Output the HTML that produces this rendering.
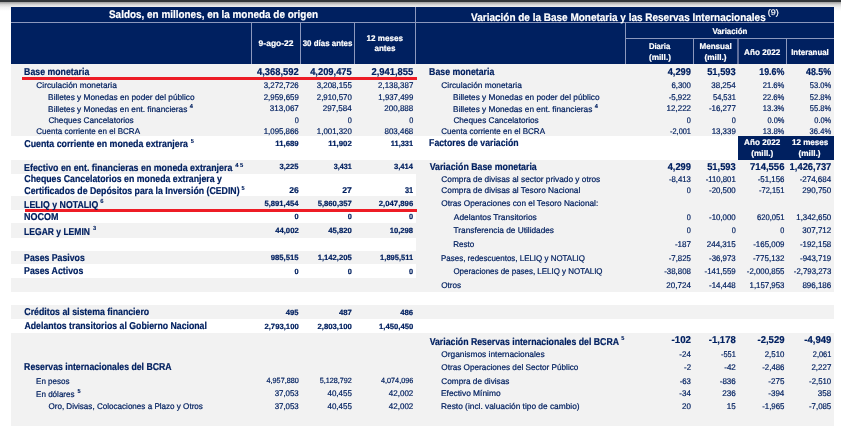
<!DOCTYPE html>
<html lang="es"><head><meta charset="utf-8"><title>Informe Monetario Diario</title>
<style>
html,body{margin:0;padding:0;background:#fff}
#p{position:relative;width:841px;height:427px;overflow:hidden;background:#fff;font-family:"Liberation Sans",sans-serif;color:#002060;text-rendering:geometricPrecision;-webkit-font-smoothing:antialiased}
#p div{position:absolute}
.t{position:absolute;white-space:pre;line-height:14px;height:14px;transform-origin:0 0}
.b{font-weight:700}
.w{color:#fff}
</style></head><body>
<div id="p">
<div style="left:0px;top:0px;width:841px;height:2px;background:#323639;"></div>
<div style="left:0;top:2px;width:841px;height:9px;background:linear-gradient(#9c9c9c,#d9d9d9 30%,#f3f3f3 60%,#fff)"></div>
<div style="left:11px;top:64px;width:404.5px;height:72px;background:#f2f2f2;"></div>
<div style="left:11px;top:160px;width:404.5px;height:14px;background:#f2f2f2;"></div>
<div style="left:11px;top:196px;width:404.5px;height:14px;background:#f2f2f2;"></div>
<div style="left:11px;top:223px;width:404.5px;height:15px;background:#f2f2f2;"></div>
<div style="left:11px;top:251px;width:404.5px;height:13px;background:#f2f2f2;"></div>
<div style="left:11px;top:278px;width:404.5px;height:14px;background:#f2f2f2;"></div>
<div style="left:11px;top:305px;width:404.5px;height:14px;background:#f2f2f2;"></div>
<div style="left:11px;top:333px;width:404.5px;height:92.6px;background:#f2f2f2;"></div>
<div style="left:415.5px;top:64px;width:418.5px;height:72px;background:#f2f2f2;"></div>
<div style="left:415.5px;top:160px;width:418.5px;height:132px;background:#f2f2f2;"></div>
<div style="left:415.5px;top:305px;width:418.5px;height:14px;background:#f2f2f2;"></div>
<div style="left:415.5px;top:333px;width:418.5px;height:92.6px;background:#f2f2f2;"></div>
<div style="left:11px;top:7px;width:823px;height:56.7px;background:#002060;"></div>
<div style="left:11px;top:22px;width:823px;height:1px;background:#8c98bd;"></div>
<div style="left:415px;top:7px;width:1px;height:56.7px;background:#8c98bd;"></div>
<div style="left:251px;top:23px;width:1px;height:40.7px;background:#8c98bd;"></div>
<div style="left:300px;top:23px;width:1px;height:40.7px;background:#8c98bd;"></div>
<div style="left:354px;top:23px;width:1px;height:40.7px;background:#8c98bd;"></div>
<div style="left:625px;top:23px;width:1px;height:40.7px;background:#8c98bd;"></div>
<div style="left:626px;top:38px;width:208px;height:1px;background:#8c98bd;"></div>
<div style="left:693px;top:39px;width:1px;height:24.7px;background:#8c98bd;"></div>
<div style="left:786px;top:39px;width:1px;height:24.7px;background:#8c98bd;"></div>
<div style="left:737px;top:39px;width:2px;height:24.7px;background:#5f6e9c;"></div>
<div style="left:738px;top:136px;width:96px;height:23.8px;background:#002060;"></div>
<div style="left:22px;top:77px;width:395px;height:3px;background:#ee1c25;"></div>
<div style="left:25px;top:209px;width:392px;height:3px;background:#ee1c25;"></div>
<span class="t b" style="left:24px;top:66px;font-size:9.96px;transform:translateX(0.10px) scaleX(0.8792);-webkit-text-stroke:0.2px currentColor;">Base monetaria</span>
<span class="t b" style="left:257px;top:66px;font-size:9.96px;transform:translateX(0.00px) scaleX(0.9436);-webkit-text-stroke:0.2px currentColor;">4,368,592</span>
<span class="t b" style="left:310px;top:66px;font-size:9.96px;transform:translateX(0.13px) scaleX(0.9402);-webkit-text-stroke:0.2px currentColor;">4,209,475</span>
<span class="t b" style="left:371px;top:66px;font-size:9.96px;transform:translateX(0.42px) scaleX(0.9428);-webkit-text-stroke:0.2px currentColor;">2,941,855</span>
<span class="t" style="left:36px;top:79px;font-size:8.28px;transform:translateX(0.28px) scaleX(1.0068);-webkit-text-stroke:0.2px currentColor;">Circulación monetaria</span>
<span class="t" style="left:263px;top:79px;font-size:8.28px;transform:translateX(0.69px) scaleX(0.9532);-webkit-text-stroke:0.2px currentColor;">3,272,726</span>
<span class="t" style="left:316px;top:79px;font-size:8.28px;transform:translateX(0.72px) scaleX(0.9547);-webkit-text-stroke:0.2px currentColor;">3,208,155</span>
<span class="t" style="left:378px;top:79px;font-size:8.28px;transform:translateX(0.05px) scaleX(0.9584);-webkit-text-stroke:0.2px currentColor;">2,138,387</span>
<span class="t" style="left:48px;top:91px;font-size:8.28px;transform:translateX(0.12px) scaleX(1.0020);-webkit-text-stroke:0.2px currentColor;">Billetes y Monedas en poder del público</span>
<span class="t" style="left:263px;top:91px;font-size:8.28px;transform:translateX(0.74px) scaleX(0.9527);-webkit-text-stroke:0.2px currentColor;">2,959,659</span>
<span class="t" style="left:316px;top:91px;font-size:8.28px;transform:translateX(0.76px) scaleX(0.9530);-webkit-text-stroke:0.2px currentColor;">2,910,570</span>
<span class="t" style="left:378px;top:91px;font-size:8.28px;transform:translateX(0.34px) scaleX(0.9498);-webkit-text-stroke:0.2px currentColor;">1,937,499</span>
<span class="t" style="left:48px;top:103px;font-size:8.28px;transform:translateX(0.12px) scaleX(1.0001);-webkit-text-stroke:0.2px currentColor;">Billetes y Monedas en ent. financieras</span>
<sup class="t b" style="left:189px;top:100px;font-size:5.90px;transform:translateX(0.66px) scaleX(0.9594);-webkit-text-stroke:0.1px currentColor;">4</sup>
<span class="t" style="left:269px;top:102px;font-size:8.28px;transform:translateX(0.85px) scaleX(0.9686);-webkit-text-stroke:0.2px currentColor;">313,067</span>
<span class="t" style="left:322px;top:102px;font-size:8.28px;transform:translateX(0.68px) scaleX(0.9722);-webkit-text-stroke:0.2px currentColor;">297,584</span>
<span class="t" style="left:384px;top:102px;font-size:8.28px;transform:translateX(0.34px) scaleX(0.9671);-webkit-text-stroke:0.2px currentColor;">200,888</span>
<span class="t" style="left:48px;top:114px;font-size:8.28px;transform:translateX(0.38px) scaleX(0.9930);-webkit-text-stroke:0.2px currentColor;">Cheques Cancelatorios</span>
<span class="t" style="left:294px;top:114px;font-size:8.28px;transform:translateX(0.63px) scaleX(0.8819);-webkit-text-stroke:0.2px currentColor;">0</span>
<span class="t" style="left:347px;top:114px;font-size:8.28px;transform:translateX(0.73px) scaleX(0.8819);-webkit-text-stroke:0.2px currentColor;">0</span>
<span class="t" style="left:409px;top:114px;font-size:8.28px;transform:translateX(0.13px) scaleX(0.8819);-webkit-text-stroke:0.2px currentColor;">0</span>
<span class="t" style="left:36px;top:125px;font-size:8.28px;transform:translateX(0.29px) scaleX(0.9734);-webkit-text-stroke:0.2px currentColor;">Cuenta corriente en el BCRA</span>
<span class="t" style="left:263px;top:125px;font-size:8.28px;transform:translateX(0.69px) scaleX(0.9531);-webkit-text-stroke:0.2px currentColor;">1,095,866</span>
<span class="t" style="left:316px;top:125px;font-size:8.28px;transform:translateX(0.87px) scaleX(0.9501);-webkit-text-stroke:0.2px currentColor;">1,001,320</span>
<span class="t" style="left:384px;top:125px;font-size:8.28px;transform:translateX(0.48px) scaleX(0.9626);-webkit-text-stroke:0.2px currentColor;">803,468</span>
<span class="t b" style="left:24px;top:138px;font-size:9.96px;transform:translateX(0.33px) scaleX(0.8857);-webkit-text-stroke:0.2px currentColor;">Cuenta corriente en moneda extranjera</span>
<sup class="t b" style="left:190px;top:135px;font-size:5.90px;transform:translateX(0.87px) scaleX(0.9532);-webkit-text-stroke:0.1px currentColor;">5</sup>
<span class="t b" style="left:275px;top:137px;font-size:7.56px;transform:translateX(0.28px) scaleX(1.0325);-webkit-text-stroke:0.2px currentColor;">11,689</span>
<span class="t b" style="left:328px;top:137px;font-size:7.56px;transform:translateX(0.27px) scaleX(1.0383);-webkit-text-stroke:0.2px currentColor;">11,902</span>
<span class="t b" style="left:390px;top:137px;font-size:7.56px;transform:translateX(0.80px) scaleX(0.9840);-webkit-text-stroke:0.2px currentColor;">11,331</span>
<span class="t b" style="left:24px;top:162px;font-size:9.96px;transform:translateX(0.10px) scaleX(0.8879);-webkit-text-stroke:0.2px currentColor;">Efectivo en ent. financieras en moneda extranjera</span>
<sup class="t b" style="left:235px;top:159px;font-size:5.90px;transform:translateX(0.16px) scaleX(0.9910);-webkit-text-stroke:0.1px currentColor;">4 5</sup>
<span class="t b" style="left:279px;top:160px;font-size:7.56px;transform:translateX(0.51px) scaleX(1.0109);-webkit-text-stroke:0.2px currentColor;">3,225</span>
<span class="t b" style="left:333px;top:160px;font-size:7.56px;transform:translateX(0.70px) scaleX(0.9530);-webkit-text-stroke:0.2px currentColor;">3,431</span>
<span class="t b" style="left:393px;top:160px;font-size:7.56px;transform:translateX(0.90px) scaleX(1.0078);-webkit-text-stroke:0.2px currentColor;">3,414</span>
<span class="t b" style="left:24px;top:173px;font-size:9.96px;transform:translateX(0.33px) scaleX(0.8800);-webkit-text-stroke:0.2px currentColor;">Cheques Cancelatorios en moneda extranjera y</span>
<span class="t b" style="left:24px;top:185px;font-size:9.96px;transform:translateX(0.33px) scaleX(0.8784);-webkit-text-stroke:0.2px currentColor;">Certificados de Depósitos para la Inversión (CEDIN)</span>
<sup class="t b" style="left:241px;top:182px;font-size:5.90px;transform:translateX(0.57px) scaleX(0.9532);-webkit-text-stroke:0.1px currentColor;">5</sup>
<span class="t b" style="left:289px;top:183px;font-size:8.43px;transform:translateX(0.13px) scaleX(1.0221);-webkit-text-stroke:0.2px currentColor;">26</span>
<span class="t b" style="left:342px;top:183px;font-size:8.43px;transform:translateX(0.29px) scaleX(1.0231);-webkit-text-stroke:0.2px currentColor;">27</span>
<span class="t b" style="left:404px;top:183px;font-size:8.43px;transform:translateX(0.97px) scaleX(0.8689);-webkit-text-stroke:0.2px currentColor;">31</span>
<span class="t b" style="left:24px;top:199px;font-size:9.96px;transform:translateX(0.10px) scaleX(0.8786);-webkit-text-stroke:0.2px currentColor;">LELIQ y NOTALIQ</span>
<sup class="t b" style="left:100px;top:195px;font-size:5.90px;transform:translateX(0.13px) scaleX(0.9991);-webkit-text-stroke:0.1px currentColor;">6</sup>
<span class="t b" style="left:264px;top:197px;font-size:7.56px;transform:translateX(0.44px) scaleX(1.0126);-webkit-text-stroke:0.2px currentColor;">5,891,454</span>
<span class="t b" style="left:317px;top:197px;font-size:7.56px;transform:translateX(0.65px) scaleX(1.0181);-webkit-text-stroke:0.2px currentColor;">5,860,357</span>
<span class="t b" style="left:378px;top:197px;font-size:7.56px;transform:translateX(0.83px) scaleX(1.0228);-webkit-text-stroke:0.2px currentColor;">2,047,896</span>
<span class="t b" style="left:24px;top:211px;font-size:9.96px;transform:translateX(0.09px) scaleX(0.9048);-webkit-text-stroke:0.2px currentColor;">NOCOM</span>
<span class="t b" style="left:294px;top:210px;font-size:7.56px;transform:translateX(0.62px) scaleX(0.9718);-webkit-text-stroke:0.2px currentColor;">0</span>
<span class="t b" style="left:347px;top:210px;font-size:7.56px;transform:translateX(0.72px) scaleX(0.9718);-webkit-text-stroke:0.2px currentColor;">0</span>
<span class="t b" style="left:409px;top:210px;font-size:7.56px;transform:translateX(0.12px) scaleX(0.9718);-webkit-text-stroke:0.2px currentColor;">0</span>
<span class="t b" style="left:24px;top:226px;font-size:9.96px;transform:translateX(0.12px) scaleX(0.8557);-webkit-text-stroke:0.2px currentColor;">LEGAR y LEMIN</span>
<sup class="t b" style="left:92px;top:222px;font-size:5.90px;transform:translateX(0.92px) scaleX(0.9802);-webkit-text-stroke:0.1px currentColor;">3</sup>
<span class="t b" style="left:275px;top:224px;font-size:7.56px;transform:translateX(0.13px) scaleX(1.0210);-webkit-text-stroke:0.2px currentColor;">44,002</span>
<span class="t b" style="left:328px;top:224px;font-size:7.56px;transform:translateX(0.30px) scaleX(1.0184);-webkit-text-stroke:0.2px currentColor;">45,820</span>
<span class="t b" style="left:389px;top:224px;font-size:7.56px;transform:translateX(0.75px) scaleX(1.0126);-webkit-text-stroke:0.2px currentColor;">10,298</span>
<span class="t b" style="left:24px;top:252px;font-size:9.96px;transform:translateX(0.10px) scaleX(0.8769);-webkit-text-stroke:0.2px currentColor;">Pases Pasivos</span>
<span class="t b" style="left:270px;top:251px;font-size:7.56px;transform:translateX(0.73px) scaleX(1.0221);-webkit-text-stroke:0.2px currentColor;">985,515</span>
<span class="t b" style="left:317px;top:251px;font-size:7.56px;transform:translateX(0.63px) scaleX(1.0149);-webkit-text-stroke:0.2px currentColor;">1,142,205</span>
<span class="t b" style="left:380px;top:251px;font-size:7.56px;transform:translateX(0.12px) scaleX(0.9944);-webkit-text-stroke:0.2px currentColor;">1,895,511</span>
<span class="t b" style="left:24px;top:265px;font-size:9.96px;transform:translateX(0.10px) scaleX(0.8816);-webkit-text-stroke:0.2px currentColor;">Pases Activos</span>
<span class="t b" style="left:294px;top:265px;font-size:7.56px;transform:translateX(0.62px) scaleX(0.9718);-webkit-text-stroke:0.2px currentColor;">0</span>
<span class="t b" style="left:347px;top:265px;font-size:7.56px;transform:translateX(0.72px) scaleX(0.9718);-webkit-text-stroke:0.2px currentColor;">0</span>
<span class="t b" style="left:409px;top:265px;font-size:7.56px;transform:translateX(0.12px) scaleX(0.9718);-webkit-text-stroke:0.2px currentColor;">0</span>
<span class="t b" style="left:24px;top:306px;font-size:9.96px;transform:translateX(0.33px) scaleX(0.8820);-webkit-text-stroke:0.2px currentColor;">Créditos al sistema financiero</span>
<span class="t b" style="left:285px;top:306px;font-size:7.56px;transform:translateX(0.83px) scaleX(1.0153);-webkit-text-stroke:0.2px currentColor;">495</span>
<span class="t b" style="left:338px;top:306px;font-size:7.56px;transform:translateX(0.93px) scaleX(1.0253);-webkit-text-stroke:0.2px currentColor;">487</span>
<span class="t b" style="left:400px;top:306px;font-size:7.56px;transform:translateX(0.27px) scaleX(1.0246);-webkit-text-stroke:0.2px currentColor;">486</span>
<span class="t b" style="left:24px;top:320px;font-size:9.96px;transform:translateX(0.47px) scaleX(0.8772);-webkit-text-stroke:0.2px currentColor;">Adelantos transitorios al Gobierno Nacional</span>
<span class="t b" style="left:264px;top:320px;font-size:7.56px;transform:translateX(0.43px) scaleX(1.0211);-webkit-text-stroke:0.2px currentColor;">2,793,100</span>
<span class="t b" style="left:317px;top:320px;font-size:7.56px;transform:translateX(0.53px) scaleX(1.0211);-webkit-text-stroke:0.2px currentColor;">2,803,100</span>
<span class="t b" style="left:379px;top:320px;font-size:7.56px;transform:translateX(0.07px) scaleX(1.0167);-webkit-text-stroke:0.2px currentColor;">1,450,450</span>
<span class="t b" style="left:24px;top:361px;font-size:9.96px;transform:translateX(0.11px) scaleX(0.8740);-webkit-text-stroke:0.2px currentColor;">Reservas internacionales del BCRA</span>
<span class="t" style="left:36px;top:375px;font-size:8.28px;transform:translateX(0.04px) scaleX(0.9720);-webkit-text-stroke:0.2px currentColor;">En pesos</span>
<span class="t" style="left:266px;top:374px;font-size:7.56px;transform:translateX(0.58px) scaleX(0.9562);-webkit-text-stroke:0.2px currentColor;">4,957,880</span>
<span class="t" style="left:319px;top:374px;font-size:7.56px;transform:translateX(0.78px) scaleX(0.9556);-webkit-text-stroke:0.2px currentColor;">5,128,792</span>
<span class="t" style="left:381px;top:374px;font-size:7.56px;transform:translateX(0.01px) scaleX(0.9592);-webkit-text-stroke:0.2px currentColor;">4,074,096</span>
<span class="t" style="left:36px;top:388px;font-size:8.28px;transform:translateX(0.04px) scaleX(0.9744);-webkit-text-stroke:0.2px currentColor;">En dólares</span>
<sup class="t b" style="left:77px;top:385px;font-size:5.90px;transform:translateX(0.57px) scaleX(0.9532);-webkit-text-stroke:0.1px currentColor;">5</sup>
<span class="t" style="left:274px;top:387px;font-size:8.28px;transform:translateX(0.63px) scaleX(0.9543);-webkit-text-stroke:0.2px currentColor;">37,053</span>
<span class="t" style="left:327px;top:387px;font-size:8.28px;transform:translateX(0.47px) scaleX(0.9639);-webkit-text-stroke:0.2px currentColor;">40,455</span>
<span class="t" style="left:388px;top:387px;font-size:8.28px;transform:translateX(0.85px) scaleX(0.9674);-webkit-text-stroke:0.2px currentColor;">42,002</span>
<span class="t" style="left:48px;top:400px;font-size:8.28px;transform:translateX(0.41px) scaleX(0.9775);-webkit-text-stroke:0.2px currentColor;">Oro, Divisas, Colocaciones a Plazo y Otros</span>
<span class="t" style="left:274px;top:400px;font-size:8.28px;transform:translateX(0.63px) scaleX(0.9543);-webkit-text-stroke:0.2px currentColor;">37,053</span>
<span class="t" style="left:327px;top:400px;font-size:8.28px;transform:translateX(0.47px) scaleX(0.9639);-webkit-text-stroke:0.2px currentColor;">40,455</span>
<span class="t" style="left:388px;top:400px;font-size:8.28px;transform:translateX(0.85px) scaleX(0.9674);-webkit-text-stroke:0.2px currentColor;">42,002</span>
<span class="t b" style="left:429px;top:66px;font-size:9.96px;transform:translateX(0.10px) scaleX(0.8792);-webkit-text-stroke:0.2px currentColor;">Base monetaria</span>
<span class="t b" style="left:667px;top:66px;font-size:9.96px;transform:translateX(0.69px) scaleX(0.9335);-webkit-text-stroke:0.2px currentColor;">4,299</span>
<span class="t b" style="left:707px;top:66px;font-size:9.96px;transform:translateX(0.18px) scaleX(0.9379);-webkit-text-stroke:0.2px currentColor;">51,593</span>
<span class="t b" style="left:759px;top:66px;font-size:9.96px;transform:translateX(0.23px) scaleX(0.8897);-webkit-text-stroke:0.2px currentColor;">19.6%</span>
<span class="t b" style="left:805px;top:66px;font-size:9.96px;transform:translateX(0.94px) scaleX(0.8928);-webkit-text-stroke:0.2px currentColor;">48.5%</span>
<span class="t" style="left:441px;top:79px;font-size:8.28px;transform:translateX(0.28px) scaleX(1.0068);-webkit-text-stroke:0.2px currentColor;">Circulación monetaria</span>
<span class="t" style="left:671px;top:79px;font-size:8.28px;transform:translateX(0.41px) scaleX(0.9427);-webkit-text-stroke:0.2px currentColor;">6,300</span>
<span class="t" style="left:711px;top:79px;font-size:8.28px;transform:translateX(0.28px) scaleX(0.9636);-webkit-text-stroke:0.2px currentColor;">38,254</span>
<span class="t" style="left:762px;top:79px;font-size:8.28px;transform:translateX(0.72px) scaleX(0.9243);-webkit-text-stroke:0.2px currentColor;">21.6%</span>
<span class="t" style="left:809px;top:79px;font-size:8.28px;transform:translateX(0.84px) scaleX(0.9105);-webkit-text-stroke:0.2px currentColor;">53.0%</span>
<span class="t" style="left:453px;top:91px;font-size:8.28px;transform:translateX(0.12px) scaleX(1.0020);-webkit-text-stroke:0.2px currentColor;">Billetes y Monedas en poder del público</span>
<span class="t" style="left:668px;top:91px;font-size:8.28px;transform:translateX(0.65px) scaleX(0.9537);-webkit-text-stroke:0.2px currentColor;">-5,922</span>
<span class="t" style="left:713px;top:91px;font-size:8.28px;transform:translateX(0.01px) scaleX(0.9003);-webkit-text-stroke:0.2px currentColor;">54,531</span>
<span class="t" style="left:762px;top:91px;font-size:8.28px;transform:translateX(0.72px) scaleX(0.9243);-webkit-text-stroke:0.2px currentColor;">22.6%</span>
<span class="t" style="left:809px;top:91px;font-size:8.28px;transform:translateX(0.84px) scaleX(0.9105);-webkit-text-stroke:0.2px currentColor;">52.8%</span>
<span class="t" style="left:453px;top:103px;font-size:8.28px;transform:translateX(0.12px) scaleX(1.0001);-webkit-text-stroke:0.2px currentColor;">Billetes y Monedas en ent. financieras</span>
<sup class="t b" style="left:594px;top:100px;font-size:5.90px;transform:translateX(0.66px) scaleX(0.9594);-webkit-text-stroke:0.1px currentColor;">4</sup>
<span class="t" style="left:666px;top:102px;font-size:8.28px;transform:translateX(0.60px) scaleX(0.9655);-webkit-text-stroke:0.2px currentColor;">12,222</span>
<span class="t" style="left:708px;top:102px;font-size:8.28px;transform:translateX(0.91px) scaleX(0.9590);-webkit-text-stroke:0.2px currentColor;">-16,277</span>
<span class="t" style="left:762px;top:102px;font-size:8.28px;transform:translateX(0.83px) scaleX(0.9195);-webkit-text-stroke:0.2px currentColor;">13.3%</span>
<span class="t" style="left:809px;top:102px;font-size:8.28px;transform:translateX(0.84px) scaleX(0.9105);-webkit-text-stroke:0.2px currentColor;">55.8%</span>
<span class="t" style="left:453px;top:114px;font-size:8.28px;transform:translateX(0.38px) scaleX(0.9930);-webkit-text-stroke:0.2px currentColor;">Cheques Cancelatorios</span>
<span class="t" style="left:686px;top:114px;font-size:8.28px;transform:translateX(0.83px) scaleX(0.8819);-webkit-text-stroke:0.2px currentColor;">0</span>
<span class="t" style="left:731px;top:114px;font-size:8.28px;transform:translateX(0.63px) scaleX(0.8819);-webkit-text-stroke:0.2px currentColor;">0</span>
<span class="t" style="left:767px;top:114px;font-size:8.28px;transform:translateX(0.49px) scaleX(0.8962);-webkit-text-stroke:0.2px currentColor;">0.0%</span>
<span class="t" style="left:814px;top:114px;font-size:8.28px;transform:translateX(0.29px) scaleX(0.8962);-webkit-text-stroke:0.2px currentColor;">0.0%</span>
<span class="t" style="left:441px;top:125px;font-size:8.28px;transform:translateX(0.29px) scaleX(0.9734);-webkit-text-stroke:0.2px currentColor;">Cuenta corriente en el BCRA</span>
<span class="t" style="left:670px;top:125px;font-size:8.28px;transform:translateX(0.05px) scaleX(0.8927);-webkit-text-stroke:0.2px currentColor;">-2,001</span>
<span class="t" style="left:711px;top:125px;font-size:8.28px;transform:translateX(0.64px) scaleX(0.9549);-webkit-text-stroke:0.2px currentColor;">13,339</span>
<span class="t" style="left:762px;top:125px;font-size:8.28px;transform:translateX(0.83px) scaleX(0.9195);-webkit-text-stroke:0.2px currentColor;">13.8%</span>
<span class="t" style="left:809px;top:125px;font-size:8.28px;transform:translateX(0.61px) scaleX(0.9201);-webkit-text-stroke:0.2px currentColor;">36.4%</span>
<span class="t b" style="left:429px;top:137px;font-size:9.96px;transform:translateX(0.11px) scaleX(0.8738);-webkit-text-stroke:0.2px currentColor;">Factores de variación</span>
<span class="t b" style="left:429px;top:161px;font-size:9.96px;transform:translateX(0.63px) scaleX(0.8840);-webkit-text-stroke:0.2px currentColor;">Variación Base monetaria</span>
<span class="t b" style="left:667px;top:161px;font-size:9.96px;transform:translateX(0.69px) scaleX(0.9335);-webkit-text-stroke:0.2px currentColor;">4,299</span>
<span class="t b" style="left:707px;top:161px;font-size:9.96px;transform:translateX(0.18px) scaleX(0.9379);-webkit-text-stroke:0.2px currentColor;">51,593</span>
<span class="t b" style="left:750px;top:161px;font-size:9.96px;transform:translateX(0.07px) scaleX(0.9555);-webkit-text-stroke:0.2px currentColor;">714,556</span>
<span class="t b" style="left:789px;top:161px;font-size:9.96px;transform:translateX(0.59px) scaleX(0.9423);-webkit-text-stroke:0.2px currentColor;">1,426,737</span>
<span class="t" style="left:441px;top:173px;font-size:8.28px;transform:translateX(0.28px) scaleX(1.0029);-webkit-text-stroke:0.2px currentColor;">Compra de divisas al sector privado y otros</span>
<span class="t" style="left:668px;top:173px;font-size:8.28px;transform:translateX(0.88px) scaleX(0.9416);-webkit-text-stroke:0.2px currentColor;">-8,413</span>
<span class="t" style="left:705px;top:173px;font-size:8.28px;transform:translateX(0.65px) scaleX(0.9409);-webkit-text-stroke:0.2px currentColor;">-110,801</span>
<span class="t" style="left:757px;top:173px;font-size:8.28px;transform:translateX(0.64px) scaleX(0.9559);-webkit-text-stroke:0.2px currentColor;">-51,156</span>
<span class="t" style="left:799px;top:173px;font-size:8.28px;transform:translateX(0.64px) scaleX(0.9650);-webkit-text-stroke:0.2px currentColor;">-274,684</span>
<span class="t" style="left:441px;top:184px;font-size:8.28px;transform:translateX(0.28px) scaleX(1.0031);-webkit-text-stroke:0.2px currentColor;">Compra de divisas al Tesoro Nacional</span>
<span class="t" style="left:686px;top:184px;font-size:8.28px;transform:translateX(0.83px) scaleX(0.8819);-webkit-text-stroke:0.2px currentColor;">0</span>
<span class="t" style="left:709px;top:184px;font-size:8.28px;transform:translateX(0.02px) scaleX(0.9518);-webkit-text-stroke:0.2px currentColor;">-20,500</span>
<span class="t" style="left:758px;top:184px;font-size:8.28px;transform:translateX(0.95px) scaleX(0.9102);-webkit-text-stroke:0.2px currentColor;">-72,151</span>
<span class="t" style="left:802px;top:184px;font-size:8.28px;transform:translateX(0.36px) scaleX(0.9653);-webkit-text-stroke:0.2px currentColor;">290,750</span>
<span class="t" style="left:441px;top:197px;font-size:8.28px;transform:translateX(0.31px) scaleX(0.9968);-webkit-text-stroke:0.2px currentColor;">Otras Operaciones con el Tesoro Nacional:</span>
<span class="t" style="left:453px;top:211px;font-size:8.28px;transform:translateX(0.79px) scaleX(1.0143);-webkit-text-stroke:0.2px currentColor;">Adelantos Transitorios</span>
<span class="t" style="left:686px;top:211px;font-size:8.28px;transform:translateX(0.83px) scaleX(0.8819);-webkit-text-stroke:0.2px currentColor;">0</span>
<span class="t" style="left:709px;top:211px;font-size:8.28px;transform:translateX(0.02px) scaleX(0.9518);-webkit-text-stroke:0.2px currentColor;">-10,000</span>
<span class="t" style="left:756px;top:211px;font-size:8.28px;transform:translateX(0.95px) scaleX(0.9210);-webkit-text-stroke:0.2px currentColor;">620,051</span>
<span class="t" style="left:796px;top:211px;font-size:8.28px;transform:translateX(0.27px) scaleX(0.9501);-webkit-text-stroke:0.2px currentColor;">1,342,650</span>
<span class="t" style="left:453px;top:224px;font-size:8.28px;transform:translateX(0.61px) scaleX(1.0009);-webkit-text-stroke:0.2px currentColor;">Transferencia de Utilidades</span>
<span class="t" style="left:686px;top:224px;font-size:8.28px;transform:translateX(0.83px) scaleX(0.8819);-webkit-text-stroke:0.2px currentColor;">0</span>
<span class="t" style="left:731px;top:224px;font-size:8.28px;transform:translateX(0.63px) scaleX(0.8819);-webkit-text-stroke:0.2px currentColor;">0</span>
<span class="t" style="left:780px;top:224px;font-size:8.28px;transform:translateX(0.33px) scaleX(0.8819);-webkit-text-stroke:0.2px currentColor;">0</span>
<span class="t" style="left:802px;top:224px;font-size:8.28px;transform:translateX(0.30px) scaleX(0.9704);-webkit-text-stroke:0.2px currentColor;">307,712</span>
<span class="t" style="left:453px;top:238px;font-size:8.28px;transform:translateX(0.14px) scaleX(0.9723);-webkit-text-stroke:0.2px currentColor;">Resto</span>
<span class="t" style="left:674px;top:238px;font-size:8.28px;transform:translateX(0.90px) scaleX(0.9735);-webkit-text-stroke:0.2px currentColor;">-187</span>
<span class="t" style="left:706px;top:238px;font-size:8.28px;transform:translateX(0.72px) scaleX(0.9709);-webkit-text-stroke:0.2px currentColor;">244,315</span>
<span class="t" style="left:753px;top:238px;font-size:8.28px;transform:translateX(0.20px) scaleX(0.9584);-webkit-text-stroke:0.2px currentColor;">-165,009</span>
<span class="t" style="left:799px;top:238px;font-size:8.28px;transform:translateX(0.90px) scaleX(0.9603);-webkit-text-stroke:0.2px currentColor;">-192,158</span>
<span class="t" style="left:441px;top:252px;font-size:8.28px;transform:translateX(0.04px) scaleX(0.9621);-webkit-text-stroke:0.2px currentColor;">Pases, redescuentos, LELIQ y NOTALIQ</span>
<span class="t" style="left:668px;top:252px;font-size:8.28px;transform:translateX(0.67px) scaleX(0.9500);-webkit-text-stroke:0.2px currentColor;">-7,825</span>
<span class="t" style="left:709px;top:252px;font-size:8.28px;transform:translateX(0.08px) scaleX(0.9508);-webkit-text-stroke:0.2px currentColor;">-36,973</span>
<span class="t" style="left:752px;top:252px;font-size:8.28px;transform:translateX(0.96px) scaleX(0.9665);-webkit-text-stroke:0.2px currentColor;">-775,132</span>
<span class="t" style="left:799px;top:252px;font-size:8.28px;transform:translateX(1.00px) scaleX(0.9584);-webkit-text-stroke:0.2px currentColor;">-943,719</span>
<span class="t" style="left:453px;top:265px;font-size:8.28px;transform:translateX(0.42px) scaleX(0.9611);-webkit-text-stroke:0.2px currentColor;">Operaciones de pases, LELIQ y NOTALIQ</span>
<span class="t" style="left:664px;top:265px;font-size:8.28px;transform:translateX(0.20px) scaleX(0.9537);-webkit-text-stroke:0.2px currentColor;">-38,808</span>
<span class="t" style="left:704px;top:265px;font-size:8.28px;transform:translateX(0.50px) scaleX(0.9584);-webkit-text-stroke:0.2px currentColor;">-141,559</span>
<span class="t" style="left:746px;top:265px;font-size:8.28px;transform:translateX(0.80px) scaleX(0.9522);-webkit-text-stroke:0.2px currentColor;">-2,000,855</span>
<span class="t" style="left:793px;top:265px;font-size:8.28px;transform:translateX(0.80px) scaleX(0.9472);-webkit-text-stroke:0.2px currentColor;">-2,793,273</span>
<span class="t" style="left:441px;top:279px;font-size:8.28px;transform:translateX(0.31px) scaleX(0.9811);-webkit-text-stroke:0.2px currentColor;">Otros</span>
<span class="t" style="left:666px;top:279px;font-size:8.28px;transform:translateX(0.37px) scaleX(0.9676);-webkit-text-stroke:0.2px currentColor;">20,724</span>
<span class="t" style="left:708px;top:279px;font-size:8.28px;transform:translateX(1.00px) scaleX(0.9537);-webkit-text-stroke:0.2px currentColor;">-14,448</span>
<span class="t" style="left:749px;top:279px;font-size:8.28px;transform:translateX(0.54px) scaleX(0.9493);-webkit-text-stroke:0.2px currentColor;">1,157,953</span>
<span class="t" style="left:802px;top:279px;font-size:8.28px;transform:translateX(0.42px) scaleX(0.9647);-webkit-text-stroke:0.2px currentColor;">896,186</span>
<span class="t b" style="left:429px;top:336px;font-size:9.96px;transform:translateX(0.63px) scaleX(0.8778);-webkit-text-stroke:0.2px currentColor;">Variación Reservas internacionales del BCRA</span>
<sup class="t b" style="left:621px;top:332px;font-size:5.90px;transform:translateX(0.37px) scaleX(0.9532);-webkit-text-stroke:0.1px currentColor;">5</sup>
<span class="t b" style="left:671px;top:334px;font-size:9.96px;transform:translateX(0.54px) scaleX(0.9762);-webkit-text-stroke:0.2px currentColor;">-102</span>
<span class="t b" style="left:708px;top:334px;font-size:9.96px;transform:translateX(0.78px) scaleX(0.9534);-webkit-text-stroke:0.2px currentColor;">-1,178</span>
<span class="t b" style="left:757px;top:334px;font-size:9.96px;transform:translateX(0.52px) scaleX(0.9540);-webkit-text-stroke:0.2px currentColor;">-2,529</span>
<span class="t b" style="left:804px;top:334px;font-size:9.96px;transform:translateX(0.32px) scaleX(0.9540);-webkit-text-stroke:0.2px currentColor;">-4,949</span>
<span class="t" style="left:441px;top:348px;font-size:8.28px;transform:translateX(0.31px) scaleX(1.0088);-webkit-text-stroke:0.2px currentColor;">Organismos internacionales</span>
<span class="t" style="left:679px;top:348px;font-size:8.28px;transform:translateX(0.32px) scaleX(0.9632);-webkit-text-stroke:0.2px currentColor;">-24</span>
<span class="t" style="left:721px;top:348px;font-size:8.28px;transform:translateX(0.05px) scaleX(0.8895);-webkit-text-stroke:0.2px currentColor;">-551</span>
<span class="t" style="left:764px;top:348px;font-size:8.28px;transform:translateX(0.75px) scaleX(0.9503);-webkit-text-stroke:0.2px currentColor;">2,510</span>
<span class="t" style="left:812px;top:348px;font-size:8.28px;transform:translateX(0.79px) scaleX(0.8932);-webkit-text-stroke:0.2px currentColor;">2,061</span>
<span class="t" style="left:441px;top:361px;font-size:8.28px;transform:translateX(0.31px) scaleX(0.9914);-webkit-text-stroke:0.2px currentColor;">Otras Operaciones del Sector Público</span>
<span class="t" style="left:684px;top:361px;font-size:8.28px;transform:translateX(0.04px) scaleX(0.9452);-webkit-text-stroke:0.2px currentColor;">-2</span>
<span class="t" style="left:724px;top:361px;font-size:8.28px;transform:translateX(0.24px) scaleX(0.9674);-webkit-text-stroke:0.2px currentColor;">-42</span>
<span class="t" style="left:762px;top:361px;font-size:8.28px;transform:translateX(0.24px) scaleX(0.9477);-webkit-text-stroke:0.2px currentColor;">-2,486</span>
<span class="t" style="left:811px;top:361px;font-size:8.28px;transform:translateX(0.44px) scaleX(0.9600);-webkit-text-stroke:0.2px currentColor;">2,227</span>
<span class="t" style="left:441px;top:375px;font-size:8.28px;transform:translateX(0.28px) scaleX(0.9951);-webkit-text-stroke:0.2px currentColor;">Compra de divisas</span>
<span class="t" style="left:679px;top:375px;font-size:8.28px;transform:translateX(0.68px) scaleX(0.9430);-webkit-text-stroke:0.2px currentColor;">-63</span>
<span class="t" style="left:719px;top:375px;font-size:8.28px;transform:translateX(0.74px) scaleX(0.9681);-webkit-text-stroke:0.2px currentColor;">-836</span>
<span class="t" style="left:768px;top:375px;font-size:8.28px;transform:translateX(0.37px) scaleX(0.9713);-webkit-text-stroke:0.2px currentColor;">-275</span>
<span class="t" style="left:809px;top:375px;font-size:8.28px;transform:translateX(0.11px) scaleX(0.9429);-webkit-text-stroke:0.2px currentColor;">-2,510</span>
<span class="t" style="left:441px;top:387px;font-size:8.28px;transform:translateX(0.01px) scaleX(1.0130);-webkit-text-stroke:0.2px currentColor;">Efectivo Mínimo</span>
<span class="t" style="left:679px;top:387px;font-size:8.28px;transform:translateX(0.32px) scaleX(0.9632);-webkit-text-stroke:0.2px currentColor;">-34</span>
<span class="t" style="left:722px;top:387px;font-size:8.28px;transform:translateX(0.17px) scaleX(0.9847);-webkit-text-stroke:0.2px currentColor;">236</span>
<span class="t" style="left:768px;top:387px;font-size:8.28px;transform:translateX(0.23px) scaleX(0.9737);-webkit-text-stroke:0.2px currentColor;">-394</span>
<span class="t" style="left:817px;top:387px;font-size:8.28px;transform:translateX(0.84px) scaleX(0.9724);-webkit-text-stroke:0.2px currentColor;">358</span>
<span class="t" style="left:441px;top:400px;font-size:8.28px;transform:translateX(0.02px) scaleX(1.0087);-webkit-text-stroke:0.2px currentColor;">Resto (incl. valuación tipo de cambio)</span>
<span class="t" style="left:682px;top:400px;font-size:8.28px;transform:translateX(0.05px) scaleX(0.9637);-webkit-text-stroke:0.2px currentColor;">20</span>
<span class="t" style="left:726px;top:400px;font-size:8.28px;transform:translateX(0.80px) scaleX(0.9711);-webkit-text-stroke:0.2px currentColor;">15</span>
<span class="t" style="left:762px;top:400px;font-size:8.28px;transform:translateX(0.17px) scaleX(0.9500);-webkit-text-stroke:0.2px currentColor;">-1,965</span>
<span class="t" style="left:808px;top:400px;font-size:8.28px;transform:translateX(0.97px) scaleX(0.9500);-webkit-text-stroke:0.2px currentColor;">-7,085</span>
<span class="t b w" style="left:109px;top:8px;font-size:10.97px;transform:translateX(0.00px) scaleX(0.9048);-webkit-text-stroke:0.2px currentColor;">Saldos, en millones, en la moneda de origen</span>
<span class="t b w" style="left:471px;top:11px;font-size:10.97px;transform:translateX(0.12px) scaleX(0.9099);-webkit-text-stroke:0.2px currentColor;">Variación de la Base Monetaria y las Reservas Internacionales</span>
<sup class="t w" style="left:767px;top:6.2px;font-size:8.07px;transform:translateX(0.73px) scaleX(1.1101);-webkit-text-stroke:0.15px currentColor;">(9)</sup>
<span class="t b w" style="left:712px;top:25px;font-size:8.28px;transform:translateX(0.44px) scaleX(0.9507);-webkit-text-stroke:0.2px currentColor;">Variación</span>
<span class="t b w" style="left:258px;top:37px;font-size:8.28px;transform:translateX(0.61px) scaleX(1.0274);-webkit-text-stroke:0.2px currentColor;">9-ago-22</span>
<span class="t b w" style="left:302px;top:37px;font-size:8.28px;transform:translateX(0.71px) scaleX(0.9575);-webkit-text-stroke:0.2px currentColor;">30 días antes</span>
<span class="t b w" style="left:366px;top:32px;font-size:8.28px;transform:translateX(0.59px) scaleX(0.9789);-webkit-text-stroke:0.2px currentColor;">12 meses</span>
<span class="t b w" style="left:374px;top:42px;font-size:8.28px;transform:translateX(0.46px) scaleX(0.9712);-webkit-text-stroke:0.2px currentColor;">antes</span>
<span class="t b w" style="left:648px;top:40px;font-size:8.28px;transform:translateX(0.88px) scaleX(0.9302);-webkit-text-stroke:0.2px currentColor;">Diaria</span>
<span class="t b w" style="left:648px;top:51px;font-size:8.28px;transform:translateX(0.99px) scaleX(0.9943);-webkit-text-stroke:0.2px currentColor;">(mill.)</span>
<span class="t b w" style="left:699px;top:40px;font-size:8.28px;transform:translateX(0.46px) scaleX(0.9739);-webkit-text-stroke:0.2px currentColor;">Mensual</span>
<span class="t b w" style="left:704px;top:51px;font-size:8.28px;transform:translateX(0.49px) scaleX(0.9990);-webkit-text-stroke:0.2px currentColor;">(mill.)</span>
<span class="t b w" style="left:744px;top:46px;font-size:8.28px;transform:translateX(0.10px) scaleX(0.9855);-webkit-text-stroke:0.2px currentColor;">Año 2022</span>
<span class="t b w" style="left:791px;top:46px;font-size:8.28px;transform:translateX(0.17px) scaleX(0.9518);-webkit-text-stroke:0.2px currentColor;">Interanual</span>
<span class="t b w" style="left:744px;top:136px;font-size:8.28px;transform:translateX(0.10px) scaleX(0.9855);-webkit-text-stroke:0.2px currentColor;">Año 2022</span>
<span class="t b w" style="left:751px;top:147px;font-size:8.28px;transform:translateX(0.19px) scaleX(1.0036);-webkit-text-stroke:0.2px currentColor;">(mill.)</span>
<span class="t b w" style="left:791px;top:136px;font-size:8.28px;transform:translateX(0.89px) scaleX(0.9789);-webkit-text-stroke:0.2px currentColor;">12 meses</span>
<span class="t b w" style="left:798px;top:147px;font-size:8.28px;transform:translateX(0.49px) scaleX(0.9990);-webkit-text-stroke:0.2px currentColor;">(mill.)</span>
</div>
</body></html>
